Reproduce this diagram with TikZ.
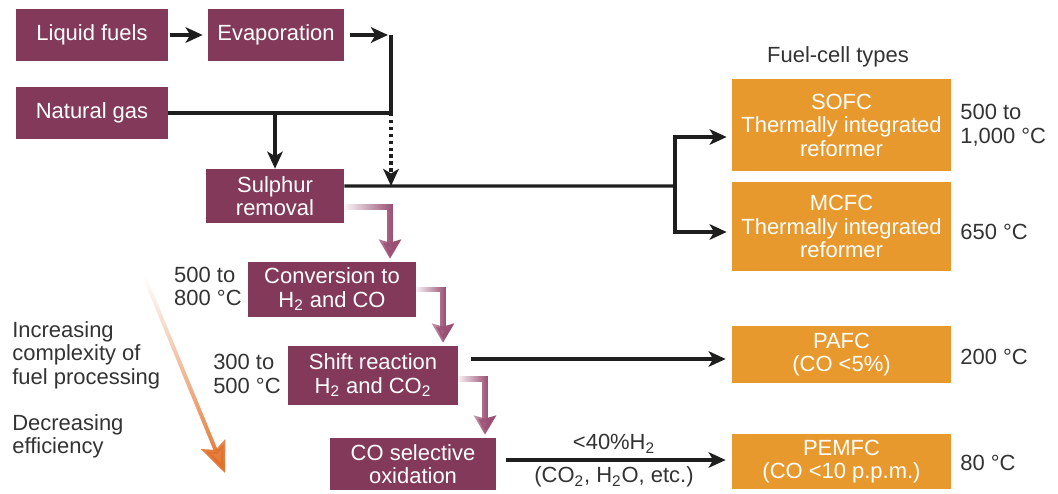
\documentclass[tikz,border=0pt]{standalone}
\usepackage{fontspec}
\setmainfont{Liberation Sans}
\usetikzlibrary{positioning, arrows.meta, fadings}

\definecolor{procpurple}{HTML}{833A5A}
\definecolor{flowpurple}{HTML}{9A4F73}
\definecolor{cellorange}{HTML}{E8992D}
\definecolor{trendorange}{HTML}{E0702A}
\definecolor{inkgray}{HTML}{1E1E1E}
\definecolor{labelgray}{HTML}{333333}

\newcommand{\boxfont}{\fontsize{12.5pt}{13.4pt}\selectfont}

\tikzfading[name=fadeinright, left color=transparent!100, right color=transparent!0]
\tikzfading[name=fadeindown, top color=transparent!100, bottom color=transparent!0]

\begin{document}
\begin{tikzpicture}[
    proc/.style={
        rectangle, fill=procpurple, text=white,
        align=center, inner sep=0pt, font=\boxfont},
    cell/.style={
        rectangle, fill=cellorange, text=white,
        align=center, inner sep=0pt, minimum width=4.38cm, font=\boxfont},
    note/.style={
        text=labelgray, align=left, inner sep=0pt, font=\boxfont},
    wire/.style={draw=inkgray, line width=0.068cm},
    arr/.style={wire, -{Stealth[length=0.34cm, width=0.31cm, inset=0.09cm]}},
    flow/.style={
        draw=flowpurple, line width=0.11cm, path fading=fadeinright,
        -{Stealth[length=0.38cm, width=0.44cm, inset=0.06cm]}},
    trend/.style={
        draw=trendorange, line width=0.08cm, path fading=fadeindown,
        -{Stealth[length=0.62cm, width=0.52cm, inset=0.12cm]}}
]
\useasboundingbox (0,0) rectangle (21.16,9.86);

%% -- Fuel sources ------------------------------------------------
\node[proc, minimum width=3.04cm, minimum height=1.04cm] (lf) at (1.84, 9.16) {Liquid fuels};
\node[proc, minimum width=2.72cm, minimum height=1.04cm] (ev) at (5.52, 9.16) {Evaporation};
\node[proc, minimum width=3.04cm, minimum height=1.04cm] (ng) at (1.84, 7.60) {Natural gas};

%% -- Processing chain --------------------------------------------
\node[proc, minimum width=2.76cm, minimum height=1.08cm] (sr) at (5.50, 5.94) {Sulphur\\removal};
\node[proc, minimum width=3.36cm, minimum height=1.10cm] (cv) at (6.64, 4.07)
    {Conversion to\\H\textsubscript{2} and CO};
\node[proc, minimum width=3.40cm, minimum height=1.18cm] (sh) at (7.46, 2.35)
    {Shift reaction\\H\textsubscript{2} and CO\textsubscript{2}};
\node[proc, minimum width=3.32cm, minimum height=1.04cm] (co) at (8.26, 0.58) {CO selective\\oxidation};

%% -- Fuel-cell types ---------------------------------------------
\node[note, align=center] (fct) at (16.76, 8.72) {Fuel-cell types};
\node[cell, minimum height=1.84cm] (sofc)  at (16.83, 7.36) {SOFC\\Thermally integrated\\reformer};
\node[cell, minimum height=1.78cm] (mcfc)  at (16.83, 5.33) {MCFC\\Thermally integrated\\reformer};
\node[cell, minimum height=1.14cm] (pafc)  at (16.83, 2.77) {PAFC\\(CO <5\%)};
\node[cell, minimum height=1.10cm] (pemfc) at (16.83, 0.63) {PEMFC\\(CO <10 p.p.m.)};

%% -- Temperatures ------------------------------------------------
\node[note, anchor=west] (tsofc)  at (19.2, 7.36) {500 to\\1,000 °C};
\node[note, anchor=west] (tmcfc)  at (19.2, 5.22) {650 °C};
\node[note, anchor=west] (tpafc)  at (19.2, 2.72) {200 °C};
\node[note, anchor=west] (tpemfc) at (19.2, 0.60) {80 °C};
\node[note, anchor=east] (tcv) at (4.84, 4.13) {500 to\\800 °C};
\node[note, anchor=east] (tsh) at (5.62, 2.38) {300 to\\500 °C};

%% -- Side notes --------------------------------------------------
\node[note, anchor=west] (cplx) at (0.24, 2.76) {Increasing\\complexity of\\fuel processing};
\node[note, anchor=west] (eff)  at (0.24, 1.13) {Decreasing\\efficiency};

%% -- Junctions ---------------------------------------------------
\coordinate (jtop)  at (7.82, 9.16);
\coordinate (jmid)  at (7.82, 7.60);
\coordinate (jlow)  at (7.82, 6.14);
\coordinate (split) at (13.5, 6.14);
\coordinate (tr0)   at (2.90, 4.30);
\coordinate (tr1)   at (4.50, 0.40);

%% -- Feed lines --------------------------------------------------
\draw[arr, shorten <=0.04cm, shorten >=0.1cm] (lf) -- (ev);
\draw[arr, shorten <=0.12cm, shorten >=0.06cm] (ev) -- (jtop);
\draw[wire] (ng) -- (jmid) -- (jtop);
\draw[arr] (sr.north |- jmid) -- (sr.north);
\draw[arr, dotted] (jmid) -- (jlow);

%% -- Sulphur removal to high-temperature cells -------------------
\draw[wire] ([yshift=2mm]sr.east) -- (split);
\draw[arr, shorten >=0.1cm] (split) |- ([yshift=-2.4mm]sofc.west);
\draw[arr, shorten >=0.1cm] (split) |- ([yshift=-1.1mm]mcfc.west);

%% -- Processing steps --------------------------------------------
\draw[flow, shorten >=0.06cm] ([yshift=-2.2mm]sr.east) -| ([xshift=1.16cm]cv.north);
\draw[flow, shorten >=0.06cm] (cv.east) -| ([xshift=1.4cm]sh.north);
\draw[flow, shorten >=0.06cm] ([yshift=-0.7mm]sh.east) -| ([xshift=1.44cm]co.north);

%% -- Low-temperature cells ---------------------------------------
\draw[arr, shorten <=0.26cm, shorten >=0.12cm]
    ([yshift=3.3mm]sh.east) -- ([yshift=3.3mm]sh.east -| pafc.west);
\draw[arr, shorten <=0.2cm, shorten >=0.12cm]
    ([yshift=0.8mm]co.east) -- ([yshift=0.8mm]co.east -| pemfc.west)
    node[note, midway, above=1mm] {<40\%H\textsubscript{2}}
    node[note, midway, below=1mm] {(CO\textsubscript{2}, H\textsubscript{2}O, etc.)};

%% -- Trend arrow -------------------------------------------------
\draw[trend] (tr0) -- (tr1);

\end{tikzpicture}
\end{document}
